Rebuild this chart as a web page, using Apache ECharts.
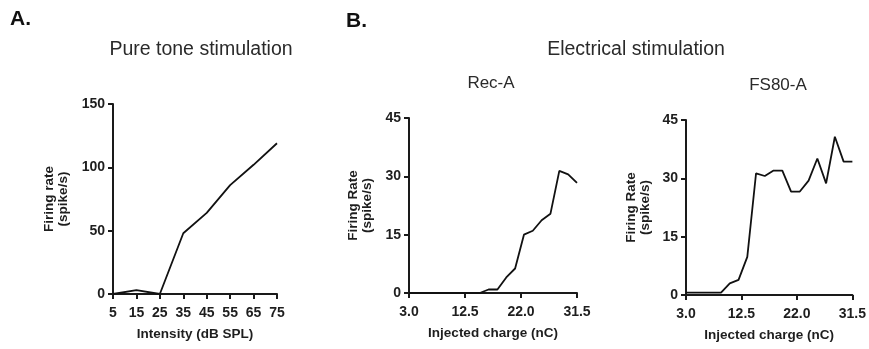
<!DOCTYPE html>
<html><head><meta charset="utf-8">
<script src="https://cdn.jsdelivr.net/npm/echarts@6/dist/echarts.min.js"></script>
<style>html,body{margin:0;padding:0;background:#fff}#c{width:869px;height:349px}</style>
</head><body><div id="c"></div>
<script>
// Panel A: pure tone stimulation
const intensity = [5, 15, 25, 35, 45, 55, 65, 75];
const pureToneRate = [0, 3, 0, 48, 64, 86, 102, 119];
const intensityTicks = [5, 15, 25, 35, 45, 55, 65, 75];
const rateTicksA = [0, 50, 100, 150];

// Panel B: electrical stimulation
const charge = [3.0, 4.5, 6.0, 7.5, 9.0, 10.5, 12.0, 13.5, 15.0, 16.5, 18.0, 19.5, 21.0, 22.5, 24.0, 25.5, 27.0, 28.5, 30.0, 31.5];
const recA = [0, 0, 0, 0, 0, 0, 0, 0, 0, 0.9, 0.9, 4.0, 6.3, 15.0, 16.0, 18.7, 20.4, 31.4, 30.5, 28.3];
const fs80A = [0.6, 0.6, 0.6, 0.6, 0.6, 3.0, 3.9, 9.8, 31.3, 30.6, 32.0, 32.0, 26.6, 26.6, 29.4, 35.1, 28.7, 40.7, 34.3, 34.3];
const chargeTicks = [3.0, 12.5, 22.0, 31.5];
const rateTicksB = [0, 15, 30, 45];

const FONT = '"Liberation Sans", Arial, Helvetica, sans-serif';
const AX = '#1a1a1a';

function pairs(xs, ys) { return xs.map((x, i) => [x, ys[i]]); }

function xAxisDef(idx, ticks, fmt, name, min, max) {
  return {
    gridIndex: idx, type: 'value', min: min, max: max,
    name: name, nameLocation: 'middle', nameGap: 33,
    nameTextStyle: { fontFamily: FONT, fontWeight: 'bold', fontSize: 13.5, color: '#1e1e1e' },
    axisLine: { show: true, lineStyle: { color: AX, width: 2 } },
    axisTick: { show: true, customValues: ticks, length: 5, inside: false, lineStyle: { color: AX, width: 2 } },
    axisLabel: { customValues: ticks, formatter: fmt, margin: 12, fontFamily: FONT, fontWeight: 'bold', fontSize: 14, color: '#1e1e1e' },
    splitLine: { show: false }
  };
}
function yAxisDef(idx, ticks, max, gap, name) {
  return {
    gridIndex: idx, type: 'value', min: 0, max: max,
    name: name, nameLocation: 'middle', nameGap: gap,
    nameTextStyle: { fontFamily: FONT, fontWeight: 'bold', fontSize: 13.5, color: '#1e1e1e', lineHeight: 14 },
    axisLine: { show: true, lineStyle: { color: AX, width: 2 } },
    axisTick: { show: true, customValues: ticks, length: 5, inside: false, lineStyle: { color: AX, width: 2 } },
    axisLabel: { customValues: ticks, margin: 8, fontFamily: FONT, fontWeight: 'bold', fontSize: 14, color: '#1e1e1e' },
    splitLine: { show: false }
  };
}

const lineStyle = { color: '#111', width: 1.8 };

const option = {
  animation: false,
  backgroundColor: '#fff',
  grid: [
    { left: 113, top: 104, width: 164, height: 190 },
    { left: 409, top: 118, width: 168, height: 175 },
    { left: 686, top: 120, width: 167, height: 175 }
  ],
  xAxis: [
    xAxisDef(0, intensityTicks, v => String(v), 'Intensity (dB SPL)', 5, 75),
    xAxisDef(1, chargeTicks, v => Number(v).toFixed(1), 'Injected charge (nC)', 3, 31.5),
    xAxisDef(2, chargeTicks, v => Number(v).toFixed(1), 'Injected charge (nC)', 3, 31.5)
  ],
  yAxis: [
    yAxisDef(0, rateTicksA, 150, 43, 'Firing rate\n(spike/s)'),
    yAxisDef(1, rateTicksB, 45, 35, 'Firing Rate\n(spike/s)'),
    yAxisDef(2, rateTicksB, 45, 34, 'Firing Rate\n(spike/s)')
  ],
  series: [
    { type: 'line', xAxisIndex: 0, yAxisIndex: 0, data: pairs(intensity, pureToneRate), showSymbol: false, lineStyle: lineStyle },
    { type: 'line', xAxisIndex: 1, yAxisIndex: 1, data: pairs(charge, recA), showSymbol: false, lineStyle: lineStyle },
    { type: 'line', xAxisIndex: 2, yAxisIndex: 2, data: pairs(charge, fs80A), showSymbol: false, lineStyle: lineStyle }
  ],
  graphic: [
    { type: 'text', x: 10, y: 19, style: { text: 'A.', font: 'bold 21px ' + FONT, fill: '#111', textVerticalAlign: 'middle' } },
    { type: 'text', x: 346, y: 21, style: { text: 'B.', font: 'bold 21px ' + FONT, fill: '#111', textVerticalAlign: 'middle' } },
    { type: 'text', x: 201, y: 50, style: { text: 'Pure tone stimulation', font: '19.5px ' + FONT, fill: '#2a2a2a', textAlign: 'center', textVerticalAlign: 'middle' } },
    { type: 'text', x: 636, y: 50, style: { text: 'Electrical stimulation', font: '19.5px ' + FONT, fill: '#2a2a2a', textAlign: 'center', textVerticalAlign: 'middle' } },
    { type: 'text', x: 491, y: 83.5, style: { text: 'Rec-A', font: '17px ' + FONT, fill: '#2a2a2a', textAlign: 'center', textVerticalAlign: 'middle' } },
    { type: 'text', x: 778, y: 85, style: { text: 'FS80-A', font: '17px ' + FONT, fill: '#2a2a2a', textAlign: 'center', textVerticalAlign: 'middle' } }
  ]
};

echarts.init(document.getElementById('c'), null, { renderer: 'canvas' }).setOption(option);
</script>
</body></html>
